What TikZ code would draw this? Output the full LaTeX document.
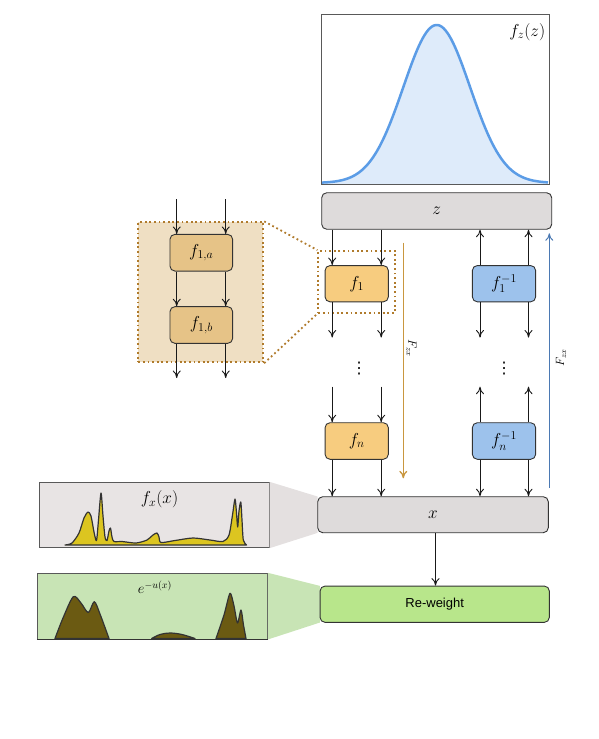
\documentclass[tikz,border=0pt]{standalone}
\usepackage{fontspec}
\newfontfamily\rwfont{Liberation Sans}
\newfontfamily\dvfont{DejaVu Sans}
\usetikzlibrary{arrows.meta}
\definecolor{boxgrey}{HTML}{DEDBDB}
\definecolor{forange}{HTML}{F7CC7F}
\definecolor{fblue}{HTML}{9DC2EC}
\definecolor{ftan}{HTML}{E6C387}
\definecolor{insetfill}{HTML}{EFDFC3}
\definecolor{dotbrown}{HTML}{B07B2C}
\definecolor{arrorange}{HTML}{C9973F}
\definecolor{arrblue}{HTML}{4B79B3}
\definecolor{rwgreen}{HTML}{B8E68B}
\definecolor{ufill}{HTML}{C8E4B5}
\definecolor{uolive}{HTML}{6B5A12}
\definecolor{fxbg}{HTML}{E8E4E4}
\definecolor{fxyellow}{HTML}{DCC520}
\definecolor{gblue}{HTML}{5B9CE6}
\definecolor{gfill}{HTML}{DEEBFA}
\definecolor{wedgegrey}{HTML}{E4E0E0}
\begin{document}
\begin{tikzpicture}[x=1pt,y=-1pt,
  mfont/.style={font=\fontsize{14.4}{17}\selectfont},
  bfont/.style={font=\fontsize{17.28}{20}\selectfont},
  box/.style={draw=black!80, rounded corners=5pt, line width=0.9pt, inner sep=0pt, bfont},
  wide/.style={box, fill=boxgrey, minimum width=230pt, minimum height=36.5pt},
  fwd/.style={box, fill=forange, minimum width=63.3pt, minimum height=36.3pt},
  inv/.style={box, fill=fblue, minimum width=63.3pt, minimum height=36.3pt},
  sub/.style={box, fill=ftan, minimum width=62.7pt, minimum height=36.7pt},
  frame/.style={draw=black!65, line width=1pt, inner sep=0pt},
  tip/.style={-{Computer Modern Rightarrow[length=7.5pt,width=8pt]}},
  arr/.style={tip, line width=0.9pt, black!90},
  dots/.style={draw=dotbrown, line width=1.8pt, dash pattern=on 1.8pt off 2.8pt},
  curve/.style={draw=black!80, line width=1.2pt, line join=round},
  vdotsn/.style={font=\dvfont\fontsize{16}{18}\selectfont, inner sep=0pt}
]
\useasboundingbox (0,0) rectangle (598,739);

% ---- frames for plots
\node[frame, minimum width=228pt, minimum height=170pt] (gplot) at (435,99) {};
\node[frame, fill=fxbg, minimum width=229.7pt, minimum height=65.4pt] (fxbox) at (154.15,515) {};
\node[frame, fill=ufill, minimum width=230pt, minimum height=65.7pt] (ubox) at (152.3,606.15) {};
\node[draw=dotbrown, fill=insetfill, line width=1.8pt, dash pattern=on 1.8pt off 2.8pt, minimum width=125pt, minimum height=140pt, inner sep=0pt] (inset) at (200.8,292.3) {};

% ---- main boxes (placed for anchors)
\coordinate (xc) at (433,514.7);
\coordinate (rwc) at (434.7,604.2);
\node[wide] (z) at (436.7,211) {$z$};

% ---- wedges (behind x and Re-weight boxes)
\path (xc) node[minimum width=230.6pt, minimum height=36pt, inner sep=0pt] (xg) {};
\path (rwc) node[minimum width=229.3pt, minimum height=36.3pt, inner sep=0pt] (rwg) {};
\fill[wedgegrey] (fxbox.north east) -- (xg.north west) -- (xg.south west) -- (fxbox.south east) -- cycle;
\fill[ufill] (ubox.north east) -- (rwg.north west) -- (rwg.south west) -- (ubox.south east) -- cycle;
\node[box, fill=rwgreen, minimum width=229.3pt, minimum height=36.3pt, font=\rwfont\fontsize{13}{15}\selectfont] (rw) at (rwc) {Re-weight};
\node[wide, minimum width=230.6pt, minimum height=36pt] (x) at (xc) {$x$};

% ---- flow boxes
\node[fwd] (f1) at (356.7,283.7) {$f_1$};
\node[fwd, minimum height=36.6pt] (fn) at (356.7,441) {$f_n$};
\node[inv] (f1i) at (504,283.7) {$f_1^{-1}$};
\node[inv, minimum height=36.6pt] (fni) at (504,441) {$f_n^{-1}$};
\node[sub] (f1a) at (201.3,252.7) {$f_{1,a}$};
\node[sub] (f1b) at (201.3,325) {$f_{1,b}$};

% ---- dotted zoom box around f1
\node[dots, minimum width=76.7pt, minimum height=61.7pt, inner sep=0pt] (zoomf) at (356.65,281.85) {};
\draw[dots] (inset.north east) -- (zoomf.north west);
\draw[dots] (inset.south east) -- (zoomf.south west);

% ---- column coordinates
\coordinate (cA) at (332.2,0);
\coordinate (cB) at (381.2,0);
\coordinate (cC) at (480,0);
\coordinate (cD) at (528.5,0);
\coordinate (iA) at (176.7,0);
\coordinate (iB) at (225.7,0);
\coordinate (cR) at (435.5,0);
\coordinate (yLow1) at (0,337.5);
\coordinate (yUpn) at (0,386.7);
\coordinate (yInTop) at (0,199.3);
\coordinate (yInBot) at (0,378);

% ---- forward arrows
\foreach \c in {cA,cB}{
  \draw[arr] (z.south -| \c) -- (f1.north -| \c);
  \draw[arr] (f1.south -| \c) -- (\c |- yLow1);
  \draw[arr] (\c |- yUpn) -- (fn.north -| \c);
  \draw[arr] (fn.south -| \c) -- (x.north -| \c);
}
% ---- inverse arrows
\foreach \c in {cC,cD}{
  \draw[arr] (f1i.north -| \c) -- (z.south -| \c);
  \draw[arr] (f1i.south -| \c) -- (\c |- yLow1);
  \draw[arr] (fni.north -| \c) -- (\c |- yUpn);
  \draw[arr] (fni.south -| \c) -- (x.north -| \c);
}
% ---- inset arrows
\foreach \c in {iA,iB}{
  \draw[arr] (\c |- yInTop) -- (f1a.north -| \c);
  \draw[arr] (f1a.south -| \c) -- (f1b.north -| \c);
  \draw[arr] (f1b.south -| \c) -- (\c |- yInBot);
}
\draw[arr] (x.south -| cR) -- (rw.north -| cR);

% ---- dots
\node[vdotsn] (d1) at (359,369) {⋮};
\node[vdotsn] (d2) at (504,369) {⋮};

% ---- F arrows
\coordinate (oS) at (403.3,242.7);
\coordinate (oE) at (403.3,478.3);
\coordinate (bS) at (549.3,488);
\coordinate (bE) at (549.3,233.3);
\draw[tip, arrorange, line width=1.3pt] (oS) -- (oE);
\draw[tip, arrblue, line width=1pt] (bS) -- (bE);
\node[rotate=-90, font=\fontsize{12}{14}\selectfont, inner sep=0pt] (Fl) at (411.5,348) {$F_{zx}$};
\node[rotate=90, font=\fontsize{12}{14}\selectfont, inner sep=0pt] (Fr) at (561,358) {$F_{zx}$};

% ---- gaussian plot
\fill[gfill] (322,184) -- plot[domain=322:548, samples=120] (\x, {184-159*exp(-0.5*((\x-436.7)/33.4)*((\x-436.7)/33.4))}) -- (548,184) -- cycle;
\draw[gblue, line width=2.5pt, line join=round] plot[domain=322:548, samples=120] (\x, {183-158*exp(-0.5*((\x-436.7)/33.4)*((\x-436.7)/33.4))});
\node[frame, minimum width=228pt, minimum height=170pt] at (gplot) {};
\node[bfont, inner sep=0pt] (fzl) at (527.3,32) {$f_z(z)$};

% ---- f_x(x) plot
\filldraw[fill=fxyellow, curve] plot[smooth, tension=0.45] coordinates {
 (65,545) (72,543) (79,533) (84,518) (88,512) (91,516) (94,532) (96.5,540.5) (98.5,520) (101,493) (103,516) (105,537) (107,540.5) (109,531) (110.5,528) (112,537) (114,541.5) (122,541.5) (136,543) (147,540) (153,535) (157,533) (159,537) (161,542.5) (175,540.5) (193,538) (210,540) (223,541.5) (229,535) (232.5,515) (235,499) (236.5,513) (237.7,527) (239,511) (240.8,502) (242,520) (243.3,540) (246.5,545)} -- cycle;
\node[bfont, inner sep=0pt] (fxl) at (159.5,499.5) {$f_x(x)$};

% ---- e^{-u(x)} plot
\filldraw[fill=uolive, curve] plot[smooth, tension=0.5] coordinates {
 (55,638.5) (63,618) (73.3,596.7) (81,603) (88.3,612.5) (94.3,601.7) (100,614) (109,638.5)} -- cycle;
\filldraw[fill=uolive, curve] plot[smooth, tension=0.6] coordinates {
 (151.7,638.5) (160,634.5) (170,633) (182,634.5) (195,638.5)} -- cycle;
\filldraw[fill=uolive, curve] plot[smooth, tension=0.45] coordinates {
 (216,638.5) (224,615) (230,593.3) (234,606) (237.5,623) (241,610) (243.5,625) (246,638.5)} -- cycle;
\draw[black!80, line width=1.2pt] (ubox.south west) -- (ubox.south east);
\node[mfont, inner sep=0pt] (ul) at (155,587) {$e^{-u(x)}$};
\end{tikzpicture}
\end{document}
